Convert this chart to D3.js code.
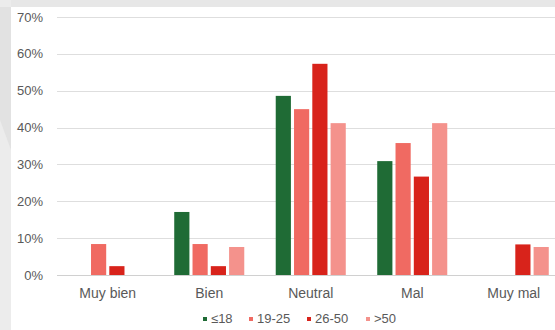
<!DOCTYPE html>
<html>
<head>
<meta charset="utf-8">
<script src="https://cdn.jsdelivr.net/npm/d3@7"></script>
<style>
  body { margin: 0; background: #fff; }
  svg { display: block; font-family: "Liberation Sans", Arial, sans-serif; }
</style>
</head>
<body>
<svg id="grafico"></svg>
<script>
const ancho = 555;
const alto = 330;

const categorias = ["Muy bien", "Bien", "Neutral", "Mal", "Muy mal"];
const series = ["≤18", "19-25", "26-50", ">50"];
const colores = ["#1f6b35", "#f06a62", "#d8231b", "#f4928c"];

const valores18 = [0, 17.1, 48.6, 30.9, 0];
const valores19 = [8.4, 8.4, 45.0, 35.8, 0];
const valores26 = [2.4, 2.4, 57.3, 26.7, 8.3];
const valores50 = [0, 7.6, 41.2, 41.2, 7.6];
const valoresSerie = [valores18, valores19, valores26, valores50];

const ticks = [0, 10, 20, 30, 40, 50, 60, 70];

const svg = d3.select("#grafico").attr("width", ancho).attr("height", alto);

// fondo gris de la captura
svg.append("rect").attr("width", ancho).attr("height", alto).attr("fill", "#ffffff");
svg.append("rect").attr("width", ancho).attr("height", 7).attr("fill", "#e7e7e7");
svg.append("rect").attr("width", 11).attr("height", alto).attr("fill", "#ececec");
svg.append("path")
  .attr("d", "M0,7 L11,7 L11,150 L0,120 Z")
  .attr("fill", "#e2e2e2");

const x = d3.scaleBand()
  .domain(categorias)
  .range([57, 564.5])
  .paddingInner(0.31)
  .paddingOuter(0.155);

const xs = d3.scaleBand()
  .domain(series)
  .range([0, x.bandwidth()])
  .paddingInner(0.17);

const y = d3.scaleLinear().domain([0, 70]).range([275, 17]);

// rejilla
svg.append("g")
  .selectAll("line")
  .data(ticks)
  .join("line")
  .attr("x1", 57)
  .attr("x2", ancho)
  .attr("y1", d => Math.round(y(d)) + 0.5)
  .attr("y2", d => Math.round(y(d)) + 0.5)
  .attr("stroke", d => d === 0 ? "#d0d0d0" : "#dedede")
  .attr("stroke-width", 1);

svg.append("g")
  .selectAll("text")
  .data(ticks)
  .join("text")
  .attr("x", 43)
  .attr("y", d => y(d))
  .attr("dy", "0.35em")
  .attr("text-anchor", "end")
  .attr("fill", "#595959")
  .attr("font-size", 13)
  .text(d => d + "%");

// barras
const grupos = svg.append("g")
  .selectAll("g")
  .data(series.map((s, i) => ({ serie: s, color: colores[i], vals: valoresSerie[i] })))
  .join("g")
  .attr("fill", d => d.color);

grupos.selectAll("rect")
  .data(d => d.vals.map((v, j) => ({ serie: d.serie, cat: categorias[j], v })))
  .join("rect")
  .attr("x", d => x(d.cat) + xs(d.serie))
  .attr("y", d => y(d.v))
  .attr("width", xs.bandwidth())
  .attr("height", d => y(0) - y(d.v));

// etiquetas categorias
svg.append("g")
  .selectAll("text")
  .data(categorias)
  .join("text")
  .attr("x", d => x(d) + x.bandwidth() / 2)
  .attr("y", 298)
  .attr("text-anchor", "middle")
  .attr("fill", "#595959")
  .attr("font-size", 14)
  .text(d => d);

// leyenda
const posLeyenda = [205, 251, 309, 368];
const leyenda = svg.append("g")
  .selectAll("g")
  .data(series)
  .join("g")
  .attr("transform", (d, i) => `translate(${posLeyenda[i]},323)`);

leyenda.append("rect")
  .attr("x", -2)
  .attr("y", -6)
  .attr("width", 4)
  .attr("height", 4)
  .attr("fill", (d, i) => colores[i]);

leyenda.append("text")
  .attr("x", 6)
  .attr("y", 0)
  .attr("fill", "#595959")
  .attr("font-size", 13)
  .text(d => d);
</script>
</body>
</html>
